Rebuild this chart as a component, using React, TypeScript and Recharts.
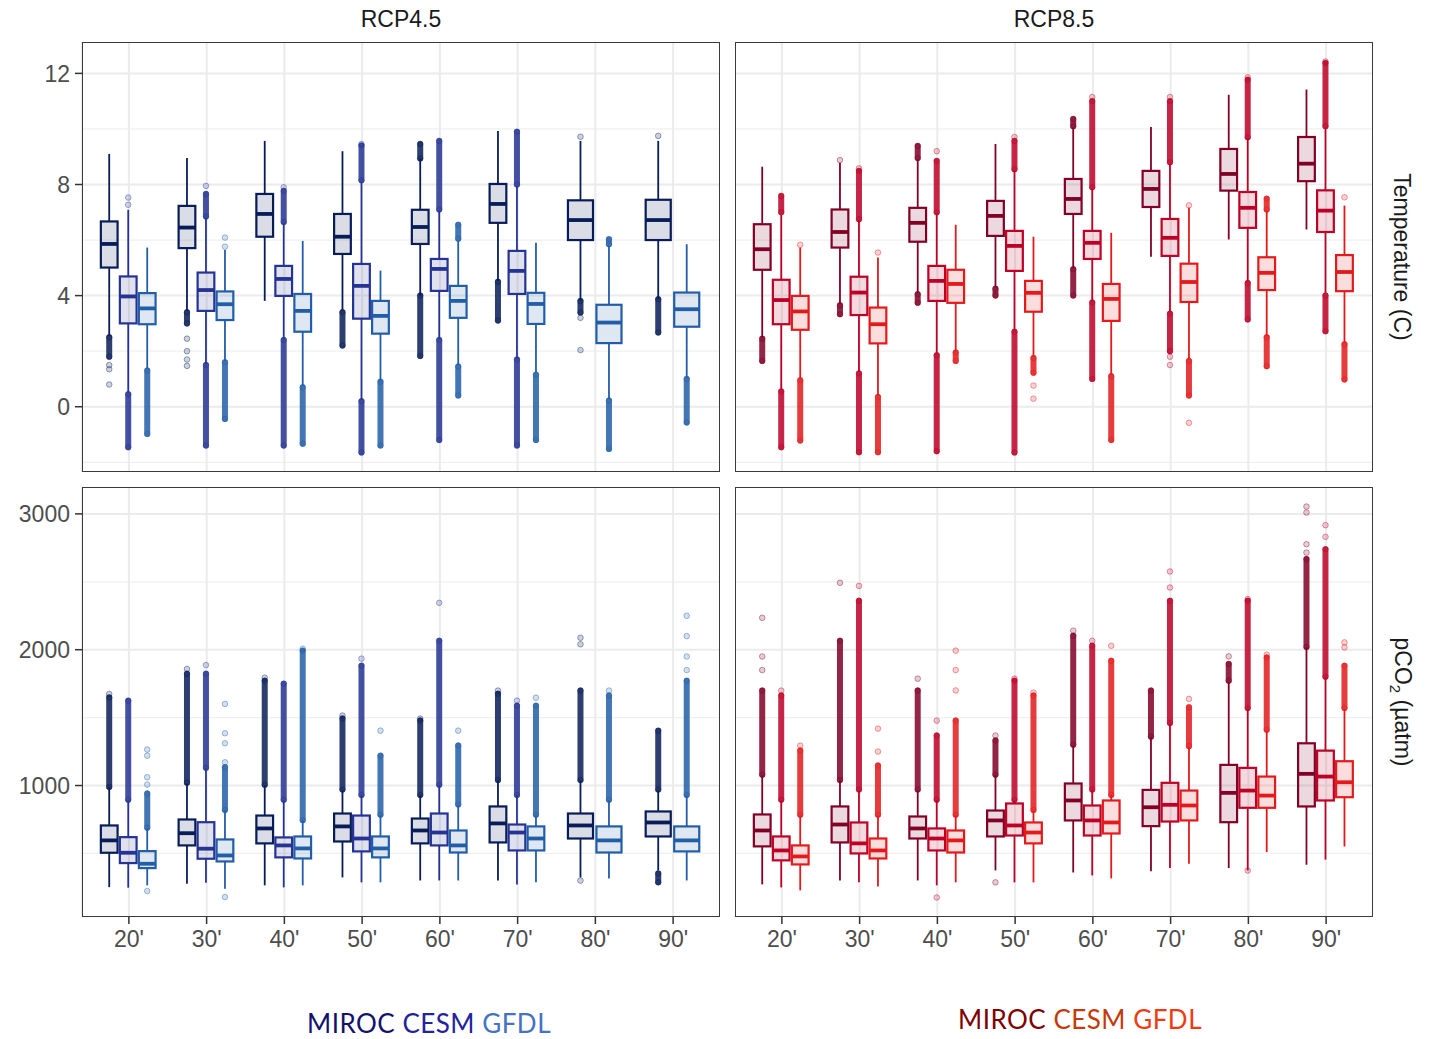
import React from "react";
import { Bar, BarChart, CartesianGrid, XAxis, YAxis } from "recharts";

// box stats per decade: [whisker low, q1, median, q3, whisker high]
// outliers per decade: [from, to] = dense run of points, [v] = single point
const DECADES = ["20'", "30'", "40'", "50'", "60'", "70'", "80'", "90'"];
const MODELS = ["MIROC", "CESM", "GFDL"];
const BLUES = ["#081d58", "#253494", "#225ea8"];
const REDS = ["#800026", "#bd0026", "#e31a1c"];

const TEMP_TICKS = [0, 4, 8, 12];
const TEMP_MINOR = [-2, 2, 6, 10];
const PCO2_TICKS = [1000, 2000, 3000];
const PCO2_MINOR = [500, 1500, 2500];

const TEMP45_MIROC = [
  [2.55, 5.01, 5.86, 6.67, 9.1],
  [3.45, 5.71, 6.45, 7.23, 8.95],
  [3.81, 6.12, 6.94, 7.66, 9.57],
  [3.45, 5.5, 6.12, 6.94, 9.2],
  [4.0, 5.86, 6.47, 7.09, 8.94],
  [4.53, 6.62, 7.3, 8.02, 9.93],
  [3.81, 6.0, 6.72, 7.43, 9.57],
  [3.87, 6.0, 6.72, 7.45, 9.57],
];
const TEMP45_MIROC_OUT = [
  [[1.8, 2.5], [1.5], [1.35], [0.8]],
  [[3.0, 3.4], [2.45], [2.0], [1.7], [1.47]],
  [],
  [[2.2, 3.4]],
  [[8.94, 9.46], [1.83, 4.0]],
  [[3.1, 4.5]],
  [[9.72], [3.39, 3.81], [3.2], [2.04]],
  [[9.75], [2.67, 3.87]],
];
const TEMP45_CESM = [
  [0.51, 3.0, 3.97, 4.69, 7.09],
  [1.55, 3.45, 4.2, 4.83, 6.8],
  [2.45, 3.99, 4.6, 5.07, 6.6],
  [0.25, 3.17, 4.35, 5.14, 8.1],
  [2.45, 4.17, 4.96, 5.32, 7.05],
  [1.74, 4.06, 4.89, 5.61, 7.94],
  null,
  null,
];
const TEMP45_CESM_OUT = [
  [[7.27], [7.53], [-1.46, 0.45]],
  [[6.85, 7.66], [7.95], [-1.4, 1.5]],
  [[6.65, 7.77], [7.9], [-1.4, 2.4]],
  [[8.15, 9.4], [9.46], [-1.65, 0.2]],
  [[7.1, 9.57], [-1.2, 2.4]],
  [[8.0, 9.9], [-1.4, 1.7]],
  [],
  [],
];
const TEMP45_GFDL = [
  [1.36, 2.97, 3.54, 4.09, 5.73],
  [1.65, 3.12, 3.69, 4.15, 5.64],
  [0.75, 2.7, 3.45, 4.06, 5.97],
  [0.94, 2.63, 3.27, 3.81, 4.9],
  [1.5, 3.2, 3.81, 4.35, 5.97],
  [1.22, 2.98, 3.7, 4.1, 5.9],
  [0.28, 2.29, 3.03, 3.67, 5.79],
  [1.05, 2.88, 3.51, 4.11, 5.85],
];
const TEMP45_GFDL_OUT = [
  [[-0.98, 1.3]],
  [[6.09], [5.76], [-0.44, 1.6]],
  [[-1.33, 0.7]],
  [[-1.4, 0.9]],
  [[6.05, 6.55], [0.4, 1.45]],
  [[-1.2, 1.15]],
  [[5.85, 6.03], [-1.52, 0.22]],
  [[-0.57, 1.0]],
];

const TEMP85_MIROC = [
  [2.49, 4.93, 5.67, 6.57, 8.64],
  [3.7, 5.73, 6.29, 7.1, 8.78],
  [4.1, 5.94, 6.62, 7.16, 8.9],
  [4.3, 6.15, 6.87, 7.41, 9.46],
  [5.0, 6.94, 7.48, 8.2, 10.05],
  [5.4, 7.19, 7.84, 8.49, 10.07],
  [6.02, 7.78, 8.38, 9.28, 11.23],
  [6.38, 8.12, 8.75, 9.71, 11.42],
];
const TEMP85_MIROC_OUT = [
  [[1.65, 2.45]],
  [[8.88], [3.33, 3.65]],
  [[8.95, 9.39], [3.74, 4.05]],
  [[4.0, 4.25]],
  [[10.1, 10.36], [4.0, 4.95]],
  [],
  [],
  [],
];
const TEMP85_CESM = [
  [0.6, 2.97, 3.84, 4.57, 6.9],
  [1.25, 3.3, 4.11, 4.68, 6.7],
  [1.92, 3.81, 4.53, 5.07, 6.95],
  [2.73, 4.89, 5.79, 6.33, 8.5],
  [3.8, 5.32, 5.9, 6.33, 7.85],
  [3.4, 5.43, 6.08, 6.76, 8.75],
  [4.5, 6.44, 7.16, 7.73, 9.67],
  [4.1, 6.29, 7.06, 7.79, 10.04],
];
const TEMP85_CESM_OUT = [
  [[7.0, 7.59], [-1.46, 0.55]],
  [[6.75, 8.49], [8.58], [-1.64, 1.2]],
  [[7.0, 8.85], [9.2], [-1.6, 1.85]],
  [[8.55, 9.57], [9.71], [-1.65, 2.7]],
  [[7.9, 11.0], [11.15], [1.0, 3.75]],
  [[8.8, 11.0], [11.15], [2.0, 3.35], [1.8], [1.5]],
  [[9.7, 11.77], [11.86], [3.14, 4.45]],
  [[10.1, 12.37], [12.43], [2.72, 4.0]],
];
const TEMP85_GFDL = [
  [1.0, 2.77, 3.43, 3.99, 5.73],
  [0.4, 2.28, 2.97, 3.57, 5.37],
  [2.0, 3.74, 4.42, 4.93, 6.55],
  [1.8, 3.42, 4.1, 4.53, 6.12],
  [1.15, 3.09, 3.88, 4.42, 6.26],
  [1.7, 3.77, 4.49, 5.15, 7.16],
  [2.54, 4.2, 4.82, 5.38, 7.04],
  [2.3, 4.16, 4.85, 5.46, 7.24],
];
const TEMP85_GFDL_OUT = [
  [[5.83], [-1.22, 0.95]],
  [[5.55], [-1.64, 0.35]],
  [[1.65, 1.95]],
  [[1.22, 1.75], [0.76], [0.29]],
  [[-1.2, 1.1]],
  [[7.25], [0.4, 1.65], [-0.58]],
  [[7.1, 7.49], [1.46, 2.5]],
  [[7.54], [0.98, 2.25]],
];

const PCO245_MIROC = [
  [252, 505, 596, 706, 988],
  [277, 559, 649, 750, 1015],
  [265, 574, 684, 779, 1000],
  [323, 588, 699, 794, 963],
  [301, 574, 669, 757, 926],
  [301, 581, 721, 846, 1037],
  [323, 610, 706, 794, 1037],
  [375, 625, 728, 809, 963],
];
const PCO245_MIROC_OUT = [
  [[990, 1649], [1674]],
  [[1020, 1823], [1858]],
  [[1005, 1772], [1794]],
  [[970, 1493], [1515]],
  [[930, 1478], [1493]],
  [[1040, 1676], [1699]],
  [[1040, 1699], [2040], [2088], [300]],
  [[970, 1404], [287, 353]],
];
const PCO245_CESM = [
  [248, 429, 505, 620, 890],
  [284, 461, 535, 730, 1125],
  [250, 471, 559, 618, 890],
  [287, 515, 610, 779, 926],
  [301, 559, 654, 794, 1000],
  [272, 522, 654, 713, 926],
  null,
  null,
];
const PCO245_CESM_OUT = [
  [[895, 1625]],
  [[1130, 1823], [1887]],
  [[895, 1750]],
  [[930, 1882], [1934]],
  [[1005, 2066], [2345]],
  [[930, 1588], [1625]],
  [],
  [],
];
const PCO245_GFDL = [
  [265, 392, 424, 517, 684],
  [240, 441, 485, 603, 816],
  [265, 463, 537, 625, 742],
  [287, 471, 537, 625, 779],
  [301, 507, 559, 669, 853],
  [287, 522, 610, 699, 779],
  [316, 507, 596, 699, 890],
  [301, 515, 596, 699, 926],
];
const PCO245_GFDL_OUT = [
  [[690, 941], [1007], [1061], [1220], [1265], [223]],
  [[820, 1135], [1171], [1311], [1385], [1601], [179]],
  [[745, 1993], [2007]],
  [[785, 1220], [1404]],
  [[860, 1294], [1404]],
  [[785, 1588], [1647]],
  [[895, 1662], [1699]],
  [[930, 1772], [1850], [1950], [2100], [2250]],
];

const PCO285_MIROC = [
  [272, 552, 669, 787, 1074],
  [301, 581, 713, 846, 1037],
  [301, 610, 684, 772, 963],
  [375, 625, 743, 816, 1074],
  [360, 743, 890, 1015, 1294],
  [368, 701, 840, 968, 1355],
  [392, 730, 946, 1152, 1760],
  [417, 846, 1086, 1311, 2017],
];
const PCO285_MIROC_OUT = [
  [[1080, 1699], [1850], [1950], [2235]],
  [[1040, 2066], [2493]],
  [[970, 1699], [1787]],
  [[1080, 1331], [1368], [287]],
  [[1300, 2103], [2140]],
  [[1360, 1699]],
  [[1772, 1895], [1951]],
  [[2020, 2667], [2715], [2777], [3010], [3054]],
];
const PCO285_CESM = [
  [250, 449, 522, 625, 890],
  [287, 500, 574, 728, 963],
  [265, 522, 610, 684, 890],
  [287, 632, 706, 868, 890],
  [338, 632, 743, 853, 963],
  [392, 735, 858, 1020, 1454],
  [375, 836, 963, 1130, 1564],
  [454, 890, 1066, 1257, 1796],
];
const PCO285_CESM_OUT = [
  [[895, 1662], [1699]],
  [[970, 2360], [2470]],
  [[895, 1368], [1478], [176]],
  [[895, 1772], [1787]],
  [[970, 2029], [2066]],
  [[1460, 2360], [2458], [2576]],
  [[1570, 2360], [2373], [374]],
  [[1800, 2740], [2831], [2917]],
];
const PCO285_GFDL = [
  [228, 419, 478, 559, 779],
  [257, 463, 522, 610, 779],
  [287, 507, 596, 669, 779],
  [287, 574, 654, 728, 816],
  [316, 647, 728, 890, 926],
  [424, 743, 853, 963, 1282],
  [510, 836, 926, 1066, 1404],
  [551, 914, 1024, 1179, 1564],
];
const PCO285_GFDL_OUT = [
  [[785, 1257], [1294]],
  [[785, 1147], [1250], [1419]],
  [[785, 1478], [1700], [1850], [1993]],
  [[820, 1662], [1684]],
  [[930, 1919], [2029]],
  [[1290, 1576], [1638]],
  [[1410, 1943], [1963]],
  [[1570, 1882], [2017], [2054]],
];

const AXIS_FONT = "'Liberation Sans', Arial, sans-serif";

function buildRows(boxes: any[][], outs: any[][]) {
  return DECADES.map((decade, i) => {
    const row: any = { decade };
    MODELS.forEach((m, j) => {
      row[m] = boxes[j][i];
      row[m + "_out"] = outs[j][i];
    });
    return row;
  });
}

function boxShape(model: string, idx: number, color: string) {
  return (props: any) => {
    const { x, y, width, height, payload } = props;
    const s = payload && payload[model];
    if (!s || !isFinite(y) || !isFinite(height)) return <g />;
    const present = MODELS.filter((m) => payload[m]).length;
    let cx = x + width / 2;
    let w = width;
    if (present === 2) {
      // ggplot dodges the two remaining boxes over the whole group width
      w = width * 1.5;
      cx = idx === 0 ? x + w / 2 : x + width - w / 2;
    }
    const bw = w * 0.88;
    const top = Math.min(y, y + height);
    const bot = Math.max(y, y + height);
    const k = s[4] === s[0] ? 0 : (bot - top) / (s[4] - s[0]);
    const py = (v: number) => bot - (v - s[0]) * k;
    const outs: number[][] = payload[model + "_out"] || [];
    return (
      <g>
        {outs.map((o, i) =>
          o.length === 1 ? (
            <circle key={i} cx={cx} cy={py(o[0])} r={2.8} fill={color} fillOpacity={0.2} stroke={color} strokeOpacity={0.4} strokeWidth={1} />
          ) : (
            <g key={i}>
              <line x1={cx} x2={cx} y1={py(o[0])} y2={py(o[1])} stroke={color} strokeWidth={6} strokeLinecap="round" strokeOpacity={0.85} />
              <circle cx={cx} cy={py(o[1])} r={2.8} fill={color} fillOpacity={0.25} stroke={color} strokeOpacity={0.4} />
              <circle cx={cx} cy={py(o[0])} r={2.8} fill={color} fillOpacity={0.25} stroke={color} strokeOpacity={0.4} />
            </g>
          )
        )}
        <line x1={cx} x2={cx} y1={py(s[0])} y2={py(s[1])} stroke={color} strokeWidth={1.8} />
        <line x1={cx} x2={cx} y1={py(s[3])} y2={py(s[4])} stroke={color} strokeWidth={1.8} />
        <rect x={cx - bw / 2} y={py(s[3])} width={bw} height={py(s[1]) - py(s[3])} fill={color} fillOpacity={0.15} stroke={color} strokeWidth={2.2} />
        <line x1={cx - bw / 2} x2={cx + bw / 2} y1={py(s[2])} y2={py(s[2])} stroke={color} strokeWidth={3.8} />
      </g>
    );
  };
}

const PLOT_W = 638;
const PLOT_H = 430;

function Panel({ boxes, outs, colors, domain, major, minor, left, top, showY, showX }: any) {
  const rows = buildRows(boxes, outs);
  const yw = showY ? 82 : 0;
  return (
    <div style={{ position: "absolute", left, top }}>
      <BarChart
        width={yw + PLOT_W}
        height={PLOT_H + (showX ? 50 : 0)}
        data={rows}
        margin={{ top: 0, right: 0, bottom: 0, left: 0 }}
        barGap={0}
        barCategoryGap="12.5%"
      >
        <CartesianGrid horizontalValues={minor} vertical={false} stroke="#F0F0F0" strokeWidth={1.2} />
        <CartesianGrid horizontalValues={major} stroke="#EBEBEB" strokeWidth={2} />
        <XAxis
          dataKey="decade"
          hide={!showX}
          height={50}
          padding={{ left: 8, right: 8 }}
          axisLine={false}
          tickLine={{ stroke: "#333333", strokeWidth: 1.5 }}
          tickSize={7}
          tickMargin={7}
          tick={{ fill: "#4D4D4D", fontSize: 23, fontFamily: AXIS_FONT }}
          interval={0}
        />
        <YAxis
          type="number"
          domain={domain}
          allowDataOverflow
          ticks={major}
          hide={!showY}
          width={82}
          axisLine={false}
          tickLine={{ stroke: "#333333", strokeWidth: 1.5 }}
          tickSize={7}
          tickMargin={5}
          tick={{ fill: "#4D4D4D", fontSize: 23, fontFamily: AXIS_FONT }}
        />
        {MODELS.map((m, j) => (
          <Bar
            key={m}
            dataKey={(d: any) => (d[m] ? [d[m][0], d[m][4]] : null)}
            shape={boxShape(m, j, colors[j])}
            isAnimationActive={false}
          />
        ))}
      </BarChart>
      <div
        style={{
          position: "absolute",
          left: yw,
          top: 0,
          width: PLOT_W,
          height: PLOT_H,
          border: "1.3px solid #3a3a3a",
          boxSizing: "border-box",
          pointerEvents: "none",
        }}
      />
    </div>
  );
}

const stripText: React.CSSProperties = {
  position: "absolute",
  fontFamily: AXIS_FONT,
  fontSize: 23,
  lineHeight: 1,
  color: "#1A1A1A",
  whiteSpace: "nowrap",
};

const legendText: React.CSSProperties = {
  position: "absolute",
  transform: "translateY(-50%)",
  fontFamily: "Lato, 'Open Sans', sans-serif",
  fontSize: 26,
  letterSpacing: 0.5,
  lineHeight: 1,
  whiteSpace: "nowrap",
};

export default function App() {
  return (
    <div style={{ position: "absolute", left: 0, top: 0, width: 1429, height: 1039, background: "#fff" }}>
      <Panel boxes={[TEMP45_MIROC, TEMP45_CESM, TEMP45_GFDL]} outs={[TEMP45_MIROC_OUT, TEMP45_CESM_OUT, TEMP45_GFDL_OUT]}
        colors={BLUES} domain={[-2.35, 13.13]} major={TEMP_TICKS} minor={TEMP_MINOR} left={0} top={42} showY showX={false} />
      <Panel boxes={[TEMP85_MIROC, TEMP85_CESM, TEMP85_GFDL]} outs={[TEMP85_MIROC_OUT, TEMP85_CESM_OUT, TEMP85_GFDL_OUT]}
        colors={REDS} domain={[-2.35, 13.13]} major={TEMP_TICKS} minor={TEMP_MINOR} left={735} top={42} showY={false} showX={false} />
      <Panel boxes={[PCO245_MIROC, PCO245_CESM, PCO245_GFDL]} outs={[PCO245_MIROC_OUT, PCO245_CESM_OUT, PCO245_GFDL_OUT]}
        colors={BLUES} domain={[32, 3198]} major={PCO2_TICKS} minor={PCO2_MINOR} left={0} top={487} showY showX />
      <Panel boxes={[PCO285_MIROC, PCO285_CESM, PCO285_GFDL]} outs={[PCO285_MIROC_OUT, PCO285_CESM_OUT, PCO285_GFDL_OUT]}
        colors={REDS} domain={[32, 3198]} major={PCO2_TICKS} minor={PCO2_MINOR} left={735} top={487} showY={false} showX />

      <div style={{ ...stripText, left: 401, top: 19, transform: "translate(-50%, -50%)" }}>RCP4.5</div>
      <div style={{ ...stripText, left: 1054, top: 19, transform: "translate(-50%, -50%)" }}>RCP8.5</div>
      <div style={{ ...stripText, left: 1401, top: 257, transform: "translate(-50%, -50%) rotate(90deg)" }}>Temperature (C)</div>
      <div style={{ ...stripText, left: 1401, top: 702, transform: "translate(-50%, -50%) rotate(90deg)" }}>
        pCO<sub style={{ fontSize: 15, lineHeight: 1 }}>2</sub> (µatm)
      </div>

      <div style={{ ...legendText, left: 307, top: 1023 }}>
        <span style={{ color: "#12126E" }}>MIROC</span> <span style={{ color: "#2323A0" }}>CESM</span>{" "}
        <span style={{ color: "#4472C4" }}>GFDL</span>
      </div>
      <div style={{ ...legendText, left: 958, top: 1019 }}>
        <span style={{ color: "#7F0000" }}>MIROC</span> <span style={{ color: "#C43B0A" }}>CESM</span>{" "}
        <span style={{ color: "#F23A12" }}>GFDL</span>
      </div>
    </div>
  );
}
